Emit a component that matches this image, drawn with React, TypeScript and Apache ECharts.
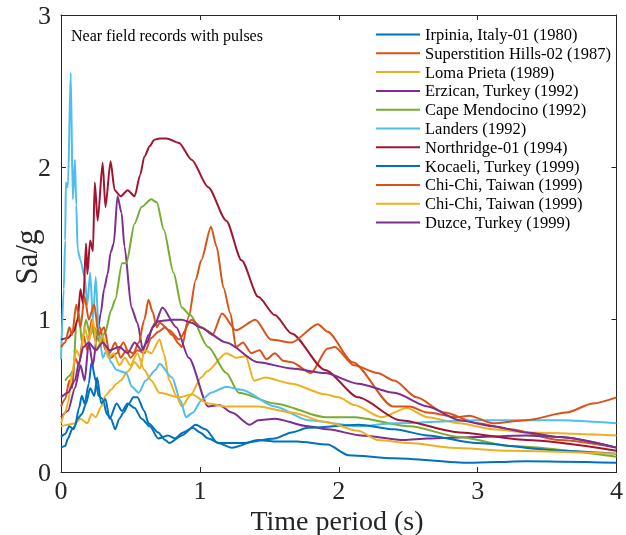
import React, { useEffect, useRef } from "react";
import * as echarts from "echarts";

// ---- data (period in s, spectral acceleration in g) ----
const irpiniaT = [0, 0.03, 0.05, 0.08, 0.1, 0.13, 0.15, 0.17, 0.2, 0.22, 0.25, 0.27, 0.3, 0.33, 0.36, 0.39, 0.42, 0.45, 0.49, 0.52, 0.55, 0.6, 0.63, 0.7, 0.75, 0.78, 0.87, 0.97, 1.04, 1.13, 1.23, 1.42, 1.54, 1.7, 1.92, 2.07, 2.4, 2.94, 3.35, 4.0];
const irpiniaSa = [0.16, 0.17, 0.22, 0.28, 0.3, 0.42, 0.5, 0.45, 0.58, 0.72, 0.6, 0.5, 0.48, 0.38, 0.35, 0.28, 0.35, 0.39, 0.45, 0.49, 0.49, 0.4, 0.32, 0.26, 0.21, 0.19, 0.24, 0.31, 0.28, 0.19, 0.16, 0.21, 0.2, 0.2, 0.18, 0.11, 0.09, 0.06, 0.07, 0.06];

const superstitionT = [0, 0.03, 0.06, 0.08, 0.1, 0.13, 0.16, 0.19, 0.22, 0.25, 0.28, 0.32, 0.36, 0.4, 0.45, 0.5, 0.55, 0.6, 0.65, 0.7, 0.75, 0.8, 0.85, 0.87, 0.92, 0.97, 1.01, 1.08, 1.12, 1.17, 1.22, 1.26, 1.31, 1.37, 1.43, 1.48, 1.54, 1.6, 1.66, 1.8, 1.92, 1.97, 2.11, 2.28, 2.4, 2.56, 2.76, 3.0, 3.23, 3.59, 4.0];
const superstitionSa = [0.43, 0.48, 0.6, 0.55, 0.75, 0.7, 0.9, 0.8, 1.0, 0.85, 0.95, 0.8, 0.75, 0.78, 0.85, 0.75, 0.8, 0.78, 0.88, 0.92, 0.95, 0.9, 0.84, 0.82, 1.02, 1.26, 1.39, 1.61, 1.48, 1.21, 1.04, 0.82, 0.85, 0.78, 0.8, 0.74, 0.78, 0.73, 0.72, 0.65, 0.81, 0.82, 0.7, 0.65, 0.6, 0.49, 0.39, 0.32, 0.28, 0.21, 0.16];

const lomaT = [0, 0.05, 0.1, 0.14, 0.19, 0.22, 0.25, 0.29, 0.32, 0.36, 0.4, 0.43, 0.48, 0.53, 0.57, 0.6, 0.65, 0.71, 0.74, 0.78, 0.83, 0.87, 0.93, 1.01, 1.05, 1.19, 1.26, 1.33, 1.39, 1.47, 1.66, 1.9, 2.0, 2.11, 2.31, 2.49, 2.64, 2.87, 3.11, 3.35, 4.0];
const lomaSa = [0.3, 0.31, 0.32, 0.35, 0.32, 0.38, 0.36, 0.43, 0.5, 0.54, 0.58, 0.6, 0.66, 0.72, 0.68, 0.8, 0.78, 0.87, 0.78, 0.6, 0.5, 0.43, 0.5, 0.62, 0.66, 0.78, 0.75, 0.76, 0.6, 0.62, 0.58, 0.51, 0.49, 0.44, 0.36, 0.42, 0.36, 0.32, 0.28, 0.26, 0.24];

const erzicanT = [0, 0.05, 0.1, 0.14, 0.17, 0.2, 0.23, 0.26, 0.286, 0.31, 0.336, 0.357, 0.38, 0.407, 0.436, 0.457, 0.507, 0.55, 0.59, 0.63, 0.68, 0.73, 0.83, 0.92, 1.06, 1.14, 1.23, 1.36, 1.42, 1.54, 1.78, 1.92, 2.16, 2.47, 2.64, 2.99, 3.35, 3.59, 4.0];
const erzicanSa = [0.36, 0.4, 0.55, 0.7, 0.6, 0.85, 0.7, 0.9, 1.04, 1.2, 1.3, 1.44, 1.5, 1.81, 1.7, 1.48, 1.08, 0.98, 0.8, 0.9, 0.98, 1.08, 0.95, 0.75, 0.43, 0.44, 0.39, 0.31, 0.34, 0.35, 0.3, 0.28, 0.24, 0.21, 0.22, 0.23, 0.24, 0.23, 0.16];

const capeT = [0.03, 0.06, 0.09, 0.11, 0.13, 0.15, 0.18, 0.21, 0.24, 0.28, 0.32, 0.36, 0.39, 0.44, 0.47, 0.53, 0.58, 0.65, 0.69, 0.74, 0.81, 0.87, 0.93, 1.06, 1.19, 1.28, 1.54, 1.9, 2.11, 2.51, 2.87, 3.23, 4.0];
const capeSa = [0.6, 0.63, 0.67, 0.98, 1.04, 0.85, 1.0, 0.9, 0.95, 0.85, 0.92, 1.06, 1.13, 1.37, 1.37, 1.63, 1.74, 1.79, 1.77, 1.59, 1.31, 1.08, 1.03, 0.82, 0.65, 0.52, 0.45, 0.36, 0.36, 0.3, 0.23, 0.17, 0.1];

const landersT = [0, 0.02, 0.03, 0.035, 0.05, 0.07, 0.085, 0.1, 0.11, 0.12, 0.14, 0.17, 0.19, 0.21, 0.23, 0.25, 0.27, 0.3, 0.33, 0.36, 0.4, 0.47, 0.51, 0.56, 0.61, 0.68, 0.71, 0.8, 0.86, 0.9, 0.95, 1.01, 1.08, 1.19, 1.3, 1.54, 1.78, 2.14, 2.4, 3.0, 3.6, 4.0];
const landersSa = [0.74, 1.2, 1.52, 1.9, 1.87, 2.62, 1.79, 2.05, 1.75, 1.46, 1.39, 1.28, 1.1, 1.31, 1.0, 1.28, 0.95, 0.75, 0.8, 0.72, 0.67, 0.65, 0.56, 0.52, 0.6, 0.67, 0.71, 0.62, 0.47, 0.36, 0.39, 0.47, 0.52, 0.56, 0.54, 0.43, 0.34, 0.3, 0.32, 0.34, 0.34, 0.32];

const northridgeT = [0, 0.05, 0.09, 0.12, 0.14, 0.16, 0.18, 0.19, 0.21, 0.23, 0.243, 0.264, 0.3, 0.32, 0.357, 0.386, 0.43, 0.48, 0.53, 0.57, 0.6, 0.64, 0.67, 0.71, 0.76, 0.85, 0.94, 1.06, 1.19, 1.3, 1.42, 1.54, 1.66, 1.9, 2.14, 2.44, 2.87, 3.35, 4.0];
const northridgeSa = [0.87, 0.88, 0.92, 1.0, 1.2, 1.1, 1.5, 1.3, 1.52, 1.45, 1.9, 1.65, 2.03, 1.74, 2.04, 1.85, 1.81, 1.85, 1.81, 1.95, 2.07, 2.14, 2.18, 2.19, 2.19, 2.16, 2.05, 1.87, 1.65, 1.39, 1.15, 1.03, 0.91, 0.67, 0.49, 0.34, 0.26, 0.21, 0.14];

const kocaeliT = [0, 0.03, 0.06, 0.09, 0.12, 0.15, 0.18, 0.21, 0.24, 0.26, 0.29, 0.32, 0.35, 0.4, 0.44, 0.48, 0.53, 0.58, 0.64, 0.7, 0.77, 0.82, 0.88, 0.95, 1.0, 1.06, 1.14, 1.3, 1.54, 1.66, 1.78, 2.14, 2.4, 2.64, 2.99, 3.59, 4.0];
const kocaeliSa = [0.23, 0.25, 0.3, 0.28, 0.35, 0.38, 0.45, 0.55, 0.5, 0.62, 0.45, 0.48, 0.35, 0.45, 0.4, 0.45, 0.42, 0.35, 0.3, 0.22, 0.24, 0.22, 0.26, 0.29, 0.26, 0.22, 0.19, 0.19, 0.22, 0.26, 0.29, 0.31, 0.28, 0.24, 0.19, 0.14, 0.12];

const chichiAT = [0, 0.03, 0.06, 0.08, 0.11, 0.14, 0.17, 0.2, 0.24, 0.27, 0.31, 0.35, 0.39, 0.43, 0.47, 0.52, 0.56, 0.6, 0.63, 0.66, 0.69, 0.71, 0.78, 0.85, 0.94, 1.01, 1.09, 1.16, 1.26, 1.4, 1.51, 1.66, 1.85, 1.92, 2.1, 2.39, 2.51, 2.64, 2.85, 2.94, 3.11, 3.35, 3.64, 3.83, 4.0];
const chichiASa = [0.82, 0.85, 0.95, 0.9, 1.1, 0.95, 1.15, 1.0, 1.1, 0.9, 0.95, 0.78, 0.85, 0.75, 0.8, 0.78, 0.85, 1.0, 1.13, 1.05, 0.95, 0.98, 0.93, 0.87, 1.0, 0.95, 0.9, 1.04, 0.93, 1.0, 0.87, 0.85, 0.97, 0.92, 0.72, 0.43, 0.43, 0.39, 0.36, 0.37, 0.32, 0.34, 0.39, 0.45, 0.49];

const chichiBT = [0, 0.03, 0.05, 0.08, 0.11, 0.14, 0.17, 0.2, 0.23, 0.26, 0.3, 0.34, 0.38, 0.42, 0.46, 0.5, 0.55, 0.6, 0.65, 0.71, 0.85, 0.94, 1.06, 1.19, 1.42, 1.66, 1.9, 2.14, 2.28, 2.51, 2.81, 3.23, 4.0];
const chichiBSa = [0.32, 0.39, 0.45, 0.65, 0.8, 0.75, 0.95, 0.85, 1.0, 0.8, 0.9, 0.75, 0.78, 0.7, 0.75, 0.7, 0.78, 0.67, 0.6, 0.52, 0.49, 0.51, 0.45, 0.43, 0.43, 0.39, 0.33, 0.27, 0.21, 0.19, 0.16, 0.14, 0.12];

const duzceT = [0, 0.05, 0.1, 0.13, 0.16, 0.2, 0.25, 0.3, 0.35, 0.42, 0.48, 0.53, 0.58, 0.62, 0.66, 0.7, 0.8, 0.87, 0.94, 1.0, 1.19, 1.42, 1.66, 1.9, 2.14, 2.4, 2.64, 2.87, 3.11, 3.35, 3.59, 4.0];
const duzceSa = [0.49, 0.52, 0.6, 0.72, 0.82, 0.85, 0.8, 0.85, 0.8, 0.82, 0.78, 0.85, 0.8, 0.85, 0.95, 0.99, 1.0, 1.0, 0.98, 0.95, 0.85, 0.72, 0.68, 0.65, 0.58, 0.52, 0.43, 0.34, 0.3, 0.26, 0.23, 0.16];

const recordNames = [
  "Irpinia, Italy-01 (1980)",
  "Superstition Hills-02 (1987)",
  "Loma Prieta (1989)",
  "Erzican, Turkey (1992)",
  "Cape Mendocino (1992)",
  "Landers (1992)",
  "Northridge-01 (1994)",
  "Kocaeli, Turkey (1999)",
  "Chi-Chi, Taiwan (1999)",
  "Chi-Chi, Taiwan (1999)",
  "Duzce, Turkey (1999)",
];
const recordPeriods = [irpiniaT, superstitionT, lomaT, erzicanT, capeT, landersT, northridgeT, kocaeliT, chichiAT, chichiBT, duzceT];
const recordValues = [irpiniaSa, superstitionSa, lomaSa, erzicanSa, capeSa, landersSa, northridgeSa, kocaeliSa, chichiASa, chichiBSa, duzceSa];

const xTicks = [0, 1, 2, 3, 4];
const yTicks = [0, 1, 2, 3];

const palette = ["#0072BD", "#D95319", "#EDB120", "#7E2F8E", "#77AC30", "#4DBEEE", "#A2142F"];

function pairs(t: number[], v: number[]) {
  const n = Math.min(t.length, v.length);
  const out: number[][] = [];
  for (let i = 0; i < n; i++) out.push([t[i], v[i]]);
  return out;
}

export default function App() {
  const ref = useRef<HTMLDivElement>(null);
  useEffect(() => {
    if (!ref.current) return;
    const chart = echarts.init(ref.current, null, { renderer: "svg" });
    const serif = "'Liberation Serif', 'Times New Roman', Times, serif";
    const axisColor = "#262626";
    // unique legend keys for duplicate names (trailing spaces are invisible)
    const keys: string[] = [];
    recordNames.forEach((n) => {
      let k = n;
      while (keys.includes(k)) k = k + " ";
      keys.push(k);
    });
    const xMin = xTicks[0];
    const xMax = xTicks[xTicks.length - 1];
    const yMin = yTicks[0];
    const yMax = yTicks[yTicks.length - 1];
    const axisLine = { show: true, onZero: false, lineStyle: { color: axisColor, width: 1 } };
    const tick = { show: true, inside: true, length: 5, lineStyle: { color: axisColor, width: 1 } };
    chart.setOption({
      animation: false,
      grid: { left: 61, right: 4, top: 15, bottom: 63, containLabel: false },
      xAxis: [
        {
          type: "value", min: xMin, max: xMax, interval: 1, position: "bottom",
          axisLine, axisTick: tick, splitLine: { show: false },
          axisLabel: { fontFamily: serif, fontSize: 26, color: "#262626", margin: 7, lineHeight: 22 },
        },
        {
          type: "value", min: xMin, max: xMax, interval: 1, position: "top",
          axisLine, axisTick: tick, splitLine: { show: false }, axisLabel: { show: false },
        },
      ],
      yAxis: [
        {
          type: "value", min: yMin, max: yMax, interval: 1, position: "left",
          axisLine, axisTick: tick, splitLine: { show: false },
          axisLabel: { fontFamily: serif, fontSize: 26, color: "#262626", margin: 10 },
        },
        {
          type: "value", min: yMin, max: yMax, interval: 1, position: "right",
          axisLine, axisTick: tick, splitLine: { show: false }, axisLabel: { show: false },
        },
      ],
      legend: {
        orient: "vertical",
        left: 375,
        top: 26,
        padding: 0,
        itemWidth: 44,
        itemHeight: 16,
        itemGap: 1.8,
        data: keys,
        itemStyle: { opacity: 0 },
        textStyle: { fontFamily: serif, fontSize: 16.5, color: "#000", lineHeight: 16 },
      },
      graphic: [
        {
          type: "text", x: 71, y: 35,
          style: { text: "Near field records with pulses", fontFamily: serif, fontSize: 16, fill: "#000", align: "left", verticalAlign: "middle" },
        },
        {
          type: "text", x: 26, y: 257, rotation: Math.PI / 2,
          style: { text: "Sa/g", fontFamily: serif, fontSize: 31, fill: "#262626", align: "center", verticalAlign: "middle" },
        },
        {
          type: "text", x: 337, y: 520,
          style: { text: "Time period (s)", fontFamily: serif, fontSize: 28, lineHeight: 24, fill: "#262626", align: "center", verticalAlign: "middle" },
        },
      ],
      series: keys.map((k, i) => ({
        name: k,
        type: "line",
        xAxisIndex: 0,
        yAxisIndex: 0,
        data: pairs(recordPeriods[i], recordValues[i]),
        symbol: "none",
        smooth: 0.25,
        smoothMonotone: "x",
        color: palette[i % palette.length],
        lineStyle: { width: 2, color: palette[i % palette.length] },
        clip: true,
      })),
    });
    return () => chart.dispose();
  }, []);
  return <div ref={ref} style={{ position: "fixed", left: 0, top: 0, width: 626, height: 535 }} />;
}
